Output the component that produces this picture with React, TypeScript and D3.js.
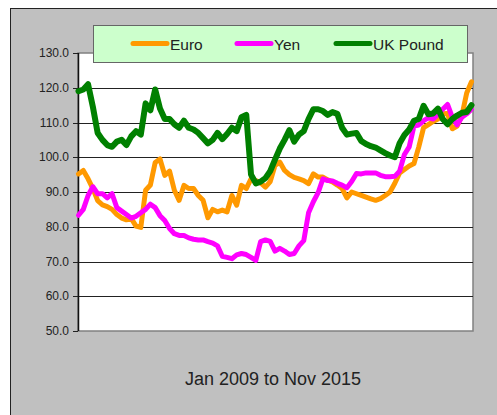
import React from "react";
import * as d3 from "d3";

const width = 497;
const height = 415;
const margin = { top: 53, right: 24, bottom: 84, left: 78 };

// monthly index values, Jan 2009 .. Nov 2015
const months = d3.timeMonths(new Date(2009, 0, 1), new Date(2015, 11, 1));

const euro = [
  95.2, 96.2, 93.8, 91, 87.5, 86.3, 85.8, 85, 83.5, 82.5, 82, 82.4, 80.2, 79.8,
  90.5, 92, 98.5, 99.5, 94.8, 96, 90.5, 87.6, 91.9, 91, 91, 89, 87.6, 82.6, 85,
  84.3, 84.8, 84.3, 89, 86.2, 91.9, 91, 93.8, 93.3, 92.6, 91.4, 93, 97.6, 98.6,
  96.2, 95, 94.2, 93.8, 93.3, 92.4, 95.2, 94.3, 94.3, 93.5, 92.9, 92, 91, 88.3,
  90, 89.5, 89, 88.5, 88, 87.6, 88.1, 89, 90, 92.5, 95.5, 96.5, 97.5, 98.2, 103,
  108.5, 109.4, 110.3, 111, 112.5, 112.6, 108.2, 109, 112, 118.5, 121.7,
];

const yen = [
  83.3, 85, 89, 91.5, 89.5, 89.5, 88.3, 89.5, 85.5, 84.5, 83.5, 82.5, 83, 84,
  85, 86.5, 85.5, 83.2, 81.8, 79.5, 78, 77.5, 77.5, 76.8, 76.4, 76.2, 76.2, 75.7,
  75.3, 74.5, 71.5, 71.2, 70.8, 71.9, 72.3, 72, 71.2, 70.3, 75.7, 76.2, 75.8, 73,
  73.8, 73, 72, 72.3, 74.5, 76, 84, 87.2, 89.8, 93.8, 93.3, 93.2, 92.5, 92, 91.2,
  93, 95.3, 95.2, 95.5, 95.5, 95.5, 94.8, 94.4, 94.4, 94.5, 96, 100.8, 103, 109,
  109.3, 110.5, 111.4, 111, 112.4, 113.8, 115.2, 111.5, 109.3, 111.5, 112.5, 113.8,
];

const pound = [
  119, 119.5, 121, 114.5, 107, 105, 103.5, 103, 104.5, 105, 103.5, 106, 107.5,
  106.5, 115.5, 113.5, 119.5, 114, 111, 111, 109.5, 108.5, 110.5, 108.5, 108, 107,
  105.5, 104, 105, 107, 105.2, 106.7, 108.5, 107.5, 111.5, 112.2, 95, 92.5, 93, 94,
  96, 99.3, 102.5, 105, 107.8, 104.5, 106.5, 107.5, 111, 113.8, 113.8, 113.3,
  112.2, 113, 112.5, 108.5, 106.5, 106.8, 107, 104.7, 103.8, 103.2, 102.8, 102,
  101.2, 100.5, 100, 104, 106.4, 108, 110.5, 111, 114.8, 112.4, 112.6, 114, 111,
  109.5, 111, 112, 112.8, 113, 115,
];

const seriesNames = ["Euro", "Yen", "UK Pound"];
const seriesValues = [euro, yen, pound];
const seriesColors = ["#ff9900", "#ff00ff", "#008000"];
const seriesWidths = [5, 5, 6];

const yTicks = [50, 60, 70, 80, 90, 100, 110, 120, 130];
const title = "Jan 2009 to Nov 2015";

const narrow = "'Liberation Sans Narrow', 'Arial Narrow', 'Liberation Sans', Arial, sans-serif";

export default function App() {
  const x = d3
    .scalePoint<Date>()
    .domain(months)
    .range([margin.left + 0.5, width - margin.right - 1.5])
    .padding(0);
  const y = d3
    .scaleLinear()
    .domain([50, 130])
    .range([height - margin.bottom, margin.top]);

  const line = d3
    .line<number>()
    .x((d, i) => x(months[i]) as number)
    .y((d) => y(d));

  const plotL = margin.left;
  const plotR = width - margin.right;
  const plotT = margin.top;
  const plotB = height - margin.bottom;

  const legendX = [133, 237, 336];

  return (
    <svg
      width={width}
      height={height}
      style={{ position: "absolute", left: 0, top: 0 }}
    >
      <rect x={0} y={0} width={width} height={height} fill="#ffffff" />
      <rect x={10} y={8} width={width - 10} height={height - 8} fill="#c0c0c0" />
      <line x1={10.5} y1={8} x2={10.5} y2={height} stroke="#222" />
      <line x1={10} y1={8.5} x2={width} y2={8.5} stroke="#222" />

      {/* plot area */}
      <rect
        x={plotL}
        y={plotT}
        width={plotR - plotL}
        height={plotB - plotT}
        fill="#ffffff"
        stroke="#808080"
        strokeWidth={1.5}
      />
      {yTicks.map((t) => (
        <g key={t}>
          {t > 50 && t < 130 && (
            <line
              x1={plotL}
              x2={plotR}
              y1={Math.round(y(t)) + 0.5}
              y2={Math.round(y(t)) + 0.5}
              stroke="#222"
              strokeWidth={1.2}
            />
          )}
          <line
            x1={plotL - 5}
            x2={plotL}
            y1={Math.round(y(t)) + 0.5}
            y2={Math.round(y(t)) + 0.5}
            stroke="#222"
          />
          <text
            x={69}
            y={y(t) + 4}
            textAnchor="end"
            fontFamily={narrow}
            fontSize={12}
            fill="#222"
          >
            {d3.format(".1f")(t)}
          </text>
        </g>
      ))}
      <line x1={plotL + 0.5} x2={plotL + 0.5} y1={plotT} y2={plotB} stroke="#111" strokeWidth={1.5} />

      {seriesValues.map((vals, si) => (
        <path
          key={seriesNames[si]}
          d={line(vals) || ""}
          fill="none"
          stroke={seriesColors[si]}
          strokeWidth={seriesWidths[si]}
          strokeLinejoin="round"
          strokeLinecap="round"
        />
      ))}

      {/* legend */}
      <rect x={93.5} y={25.5} width={374} height={37} fill="#ccffcc" stroke="#666" />
      {seriesNames.map((name, si) => (
        <g key={name}>
          <line
            x1={legendX[si]}
            x2={legendX[si] + 34}
            y1={43.5}
            y2={43.5}
            stroke={seriesColors[si]}
            strokeWidth={5}
            strokeLinecap="round"
          />
          <text
            x={legendX[si] + 37}
            y={49.5}
            fontFamily={narrow}
            fontSize={15.5}
            fill="#222"
          >
            {name}
          </text>
        </g>
      ))}

      <text
        x={273}
        y={385}
        textAnchor="middle"
        fontFamily="'Liberation Sans', Arial, sans-serif"
        fontSize={18}
        fill="#222"
      >
        {title}
      </text>
    </svg>
  );
}
